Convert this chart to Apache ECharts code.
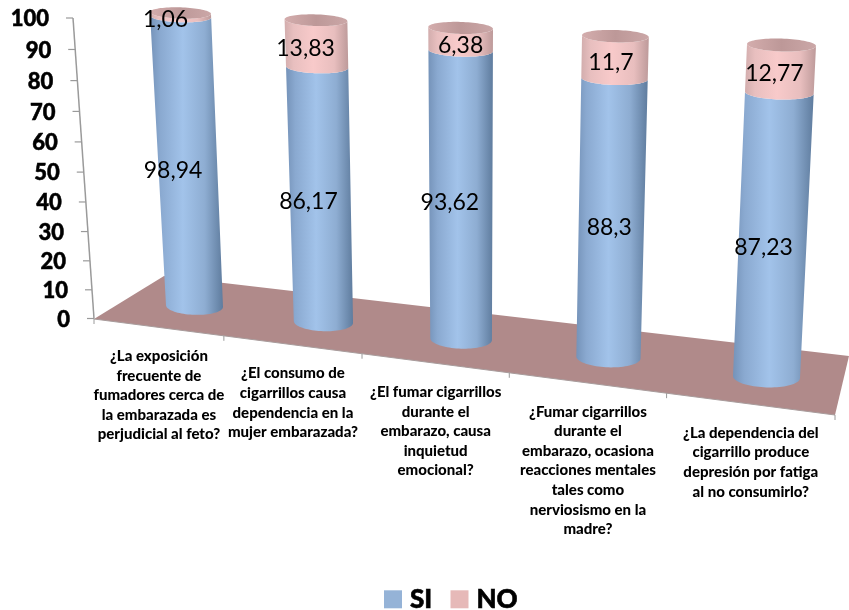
<!DOCTYPE html>
<html>
<head>
<meta charset="utf-8">
<style>html,body{margin:0;padding:0;background:#fff}#chart{width:849px;height:610px}</style>
<script src="https://cdn.jsdelivr.net/npm/echarts@6/dist/echarts.min.js"></script>
</head>
<body>
<div id="chart"></div>
<script>
// Survey answers per question, in percent
const categories = [
  "¿La exposición\nfrecuente de\nfumadores cerca de\nla embarazada es\nperjudicial al feto?",
  "¿El consumo de\ncigarrillos causa\ndependencia en la\nmujer embarazada?",
  "¿El fumar cigarrillos\ndurante el\nembarazo, causa\ninquietud\nemocional?",
  "¿Fumar cigarrillos\ndurante el\nembarazo, ocasiona\nreacciones mentales\ntales como\nnerviosismo en la\nmadre?",
  "¿La dependencia del\ncigarrillo produce\ndepresión por fatiga\nal no consumirlo?"
];
const siValues = [98.94, 86.17, 93.62, 88.3, 87.23];
const noValues = [1.06, 13.83, 6.38, 11.7, 12.77];
const tickValues = [0, 10, 20, 30, 40, 50, 60, 70, 80, 90, 100];

// Fake 3D view: grid coordinates are re-projected onto a tilted scene
const GRID = {left: 94, right: 14, top: 18, bottom: 291};
const persp = (t, k) => k * t / (1 + (k - 1) * t);
const lerp = (a, b, t) => [a[0] + (b[0] - a[0]) * t, a[1] + (b[1] - a[1]) * t];

const FLOOR = {fl: [94, 319], fr: [835, 415], br: [849, 356], bl: [164, 276], k: 0.85};
const AXIS = {bottom: [94, 318.5], top: [73, 18], k: 0.95};
const COL = {b0: [194.5, 306], b1: [766.5, 377], t0: [180.5, 13], t1: [781.5, 45], ku: 0.873, kv: 0.875};

const columnT = u => persp((u - 0.1) / 0.8, COL.ku);
function columnPoint(u, v) {
  const t = columnT(u);
  return lerp(lerp(COL.b0, COL.b1, t), lerp(COL.t0, COL.t1, t), persp(v, COL.kv));
}
// Centre and half width of a column at height v
function columnEdges(u, v) {
  const t = columnT(u), c = columnPoint(u, v);
  const w = 28.5 + 5 * t + (2 - t) * persp(v, COL.kv);
  return [c, w];
}
function toUV(api, params, category, value) {
  const c = api.coord([category, value]);
  const s = params.coordSys;
  return [(c[0] - s.x) / s.width, (s.y + s.height - c[1]) / s.height];
}
// Half ellipse across the column; side = 1 bulges down, side = -1 bulges up
function arc(u, v, side) {
  const [c, w] = columnEdges(u, v);
  const ry = w * (0.31 - 0.125 * v);
  const pts = [];
  for (let i = 0; i <= 40; i++) {
    const a = Math.PI * i / 40;
    const dir = side > 0 ? Math.cos(a) : -Math.cos(a);
    pts.push([c[0] + w * dir, c[1] + w * 0.03 * dir + side * ry * Math.sin(a)]);
  }
  return pts;
}
const shade = stops => new echarts.graphic.LinearGradient(0, 0, 1, 0,
  stops.map(s => ({offset: s[0], color: s[1]})));
const BLUE = [[0, '#7593b9'], [0.14, '#8aa9d0'], [0.45, '#a2c3ea'], [0.75, '#8eadd2'], [1, '#5f7c9e']];
const PINK = [[0, '#d2adad'], [0.14, '#e8bfbf'], [0.45, '#f8caca'], [0.78, '#e8bebe'], [1, '#bd9a9a']];
const CAP = [[0, '#d4adad'], [0.5, '#bd9898'], [1, '#cba7a7']];

// Small per-column shifts of the value labels relative to the segment middle
const siNudge = [[-15, 0], [-12, 0], [-11, -1], [-2, 2], [-9, 5]];
const noNudge = [[-15, 5], [-11, 5], [0, 6], [-4, 5], [-6, 5]];
const labelFont = '23px Lato';

function valueLabel(text, pos, nudge) {
  return {type: 'text', style: {x: pos[0] + nudge[0], y: pos[1] + nudge[1], text,
    fill: '#000', font: labelFont, align: 'center', verticalAlign: 'middle'}};
}
function segment(u, v0, v1, colors) {
  const pts = arc(u, v0, 1).concat(arc(u, v1, 1).reverse());
  return {type: 'polygon', shape: {points: pts}, style: {fill: shade(colors)}};
}

const renderFloor = (params, api) => {
  const children = [{type: 'polygon',
    shape: {points: [FLOOR.fl, FLOOR.fr, FLOOR.br, FLOOR.bl]},
    style: {fill: '#b08a8a'}},
    {type: 'line', shape: {x1: FLOOR.fl[0], y1: FLOOR.fl[1], x2: FLOOR.fr[0], y2: FLOOR.fr[1]},
      style: {stroke: '#a89c9c', lineWidth: 1}}];
  const frontLine = u => lerp(FLOOR.fl, FLOOR.fr, persp(u, FLOOR.k));
  for (let i = 0; i <= categories.length; i++) {
    const p = frontLine(i / categories.length);
    children.push({type: 'line', shape: {x1: p[0], y1: p[1], x2: p[0], y2: p[1] + 5},
      style: {stroke: '#9a9a9a', lineWidth: 1}});
  }
  categories.forEach((c, i) => {
    const a = frontLine(i / categories.length), b = frontLine((i + 1) / categories.length);
    children.push({type: 'text', style: {x: (a[0] + b[0]) / 2, y: (a[1] + b[1]) / 2 + 19,
      text: c, fill: '#000', font: '900 15px Lato', lineHeight: 19.6, align: 'center', verticalAlign: 'top'}});
  });
  return {type: 'group', silent: true, children};
};

const renderAxisTick = (params, api) => {
  const v = toUV(api, params, 0, api.value(1))[1];
  const p = lerp(AXIS.bottom, AXIS.top, persp(v, AXIS.k));
  const children = [{type: 'line', shape: {x1: p[0] - 7, y1: p[1], x2: p[0], y2: p[1]},
    style: {stroke: '#9a9a9a', lineWidth: 1.2}},
    {type: 'text', style: {x: p[0] - 24, y: p[1] + 1, text: String(api.value(1)), fill: '#000',
      stroke: '#000', lineWidth: 0.5,
      font: '900 22px Lato', align: 'right', verticalAlign: 'middle'}}];
  if (params.dataIndex === 0) {
    children.unshift({type: 'line', shape: {x1: AXIS.bottom[0], y1: AXIS.bottom[1], x2: AXIS.top[0], y2: AXIS.top[1]},
      style: {stroke: '#9a9a9a', lineWidth: 1.5}});
  }
  return {type: 'group', silent: true, children};
};

const renderSi = (params, api) => {
  const i = api.value(0), [u, v] = toUV(api, params, i, api.value(1));
  const mid = columnPoint(u, v / 2);
  return {type: 'group', silent: true, children: [
    segment(u, 0, v, BLUE),
    valueLabel(String(api.value(1)).replace('.', ','), mid, siNudge[i])
  ]};
};

const renderNo = (params, api) => {
  const i = api.value(0);
  const base = toUV(api, params, i, siValues[i]);
  const u = base[0], v0 = base[1];
  const v1 = toUV(api, params, i, siValues[i] + api.value(1))[1];
  const mid = columnPoint(u, (v0 + v1) / 2);
  const cap = arc(u, v1, 1).concat(arc(u, v1, -1).slice(1));
  return {type: 'group', silent: true, children: [
    segment(u, v0, v1, PINK),
    {type: 'polygon', shape: {points: cap}, style: {fill: shade(CAP)}},
    valueLabel(String(api.value(1)).replace('.', ','), mid, noNudge[i])
  ]};
};

const chart = echarts.init(document.getElementById('chart'), null, {renderer: 'canvas'});
chart.setOption({
  animation: false,
  backgroundColor: '#fff',
  grid: GRID,
  xAxis: {type: 'category', data: categories, show: false},
  yAxis: {type: 'value', min: 0, max: 100, interval: 10, show: false},
  legend: {
    data: ['SI', 'NO'], left: 379, top: 581, icon: 'rect', itemWidth: 18, itemHeight: 18, itemGap: 18,
    textStyle: {fontFamily: 'Lato', fontWeight: 900, fontSize: 26, color: '#000', padding: [0, 0, 0, 3],
      textBorderColor: '#000', textBorderWidth: 0.6}
  },
  series: [
    {type: 'custom', name: 'piso', coordinateSystem: 'cartesian2d', renderItem: renderFloor, data: [[0, 0]], z: 1},
    {type: 'custom', name: 'eje', coordinateSystem: 'cartesian2d', renderItem: renderAxisTick,
      data: tickValues.map(t => [0, t]), z: 2},
    {type: 'custom', name: 'SI', coordinateSystem: 'cartesian2d', renderItem: renderSi,
      data: siValues.map((v, i) => [i, v]), itemStyle: {color: '#95b3d7'}, z: 3},
    {type: 'custom', name: 'NO', coordinateSystem: 'cartesian2d', renderItem: renderNo,
      data: noValues.map((v, i) => [i, v]), itemStyle: {color: '#e6b9b8'}, z: 4}
  ]
});
</script>
</body>
</html>
